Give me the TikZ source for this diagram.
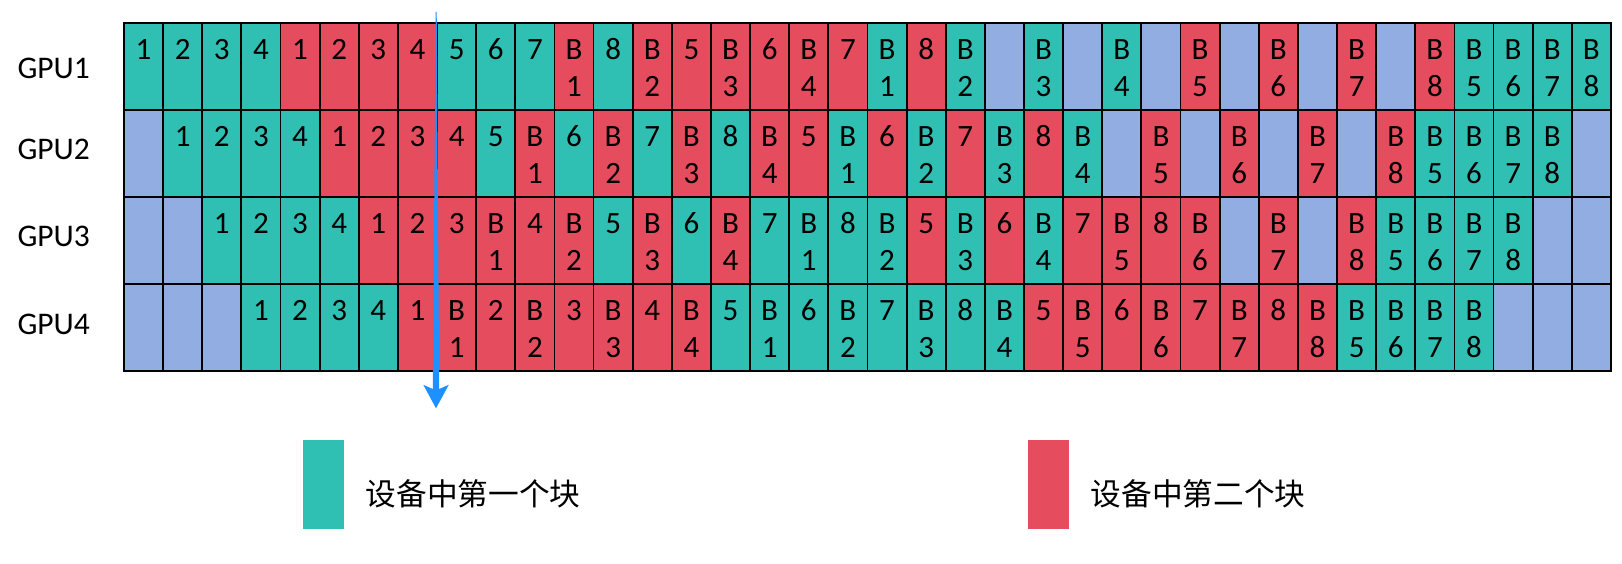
\documentclass[tikz,border=0pt]{standalone}
\usepackage{fontspec}
\setmainfont{Carlito}
\newfontfamily\cjkfont{Noto Sans CJK SC}
\definecolor{tealc}{HTML}{2FBFB3}
\definecolor{redc}{HTML}{E54C5E}
\definecolor{bluec}{HTML}{91ADE2}
\definecolor{arrc}{HTML}{1E90FF}
\def\rowA{tealc/1/{}, tealc/2/{}, tealc/3/{}, tealc/4/{}, redc/1/{}, redc/2/{}, redc/3/{}, redc/4/{}, tealc/5/{}, tealc/6/{}, tealc/7/{}, redc/B/1, tealc/8/{}, redc/B/2, redc/5/{}, redc/B/3, redc/6/{}, redc/B/4, redc/7/{}, tealc/B/1, redc/8/{}, tealc/B/2, bluec/{}/{}, tealc/B/3, bluec/{}/{}, tealc/B/4, bluec/{}/{}, redc/B/5, bluec/{}/{}, redc/B/6, bluec/{}/{}, redc/B/7, bluec/{}/{}, redc/B/8, tealc/B/5, tealc/B/6, tealc/B/7, tealc/B/8}
\def\rowB{bluec/{}/{}, tealc/1/{}, tealc/2/{}, tealc/3/{}, tealc/4/{}, redc/1/{}, redc/2/{}, redc/3/{}, redc/4/{}, tealc/5/{}, redc/B/1, tealc/6/{}, redc/B/2, tealc/7/{}, redc/B/3, tealc/8/{}, redc/B/4, redc/5/{}, tealc/B/1, redc/6/{}, tealc/B/2, redc/7/{}, tealc/B/3, redc/8/{}, tealc/B/4, bluec/{}/{}, redc/B/5, bluec/{}/{}, redc/B/6, bluec/{}/{}, redc/B/7, bluec/{}/{}, redc/B/8, tealc/B/5, tealc/B/6, tealc/B/7, tealc/B/8, bluec/{}/{}}
\def\rowC{bluec/{}/{}, bluec/{}/{}, tealc/1/{}, tealc/2/{}, tealc/3/{}, tealc/4/{}, redc/1/{}, redc/2/{}, redc/3/{}, redc/B/1, redc/4/{}, redc/B/2, tealc/5/{}, redc/B/3, tealc/6/{}, redc/B/4, tealc/7/{}, tealc/B/1, tealc/8/{}, tealc/B/2, redc/5/{}, tealc/B/3, redc/6/{}, tealc/B/4, redc/7/{}, redc/B/5, redc/8/{}, redc/B/6, bluec/{}/{}, redc/B/7, bluec/{}/{}, redc/B/8, tealc/B/5, tealc/B/6, tealc/B/7, tealc/B/8, bluec/{}/{}, bluec/{}/{}}
\def\rowD{bluec/{}/{}, bluec/{}/{}, bluec/{}/{}, tealc/1/{}, tealc/2/{}, tealc/3/{}, tealc/4/{}, redc/1/{}, redc/B/1, redc/2/{}, redc/B/2, redc/3/{}, redc/B/3, redc/4/{}, redc/B/4, tealc/5/{}, tealc/B/1, tealc/6/{}, tealc/B/2, tealc/7/{}, tealc/B/3, tealc/8/{}, tealc/B/4, redc/5/{}, redc/B/5, redc/6/{}, redc/B/6, redc/7/{}, redc/B/7, redc/8/{}, redc/B/8, tealc/B/5, tealc/B/6, tealc/B/7, tealc/B/8, bluec/{}/{}, bluec/{}/{}, bluec/{}/{}}
\newcommand\drawgpurow[2]{%
  \foreach \c/\a/\b [count=\k] in #2 {
    \pgfmathsetmacro\xl{124+(\k-1)*39.13}
    \pgfmathsetmacro\yt{22.7+(#1-1)*87}
    \node[cell,fill=\c] (c#1-\k) at (\xl,\yt) {};
    \node[ctext] (a#1-\k) at (\xl+19.565,\yt+36.6) {\a};
    \node[ctext] (b#1-\k) at (\xl+19.565,\yt+73.5) {\b};
  }%
}
\begin{document}
\begin{tikzpicture}[x=1pt,y=-1pt,
  cell/.style={draw=black,line width=1.8pt,minimum width=39.13pt,minimum height=87pt,inner sep=0pt,outer sep=0pt,anchor=north west},
  ctext/.style={anchor=base,inner sep=0pt,font=\fontsize{31}{37}\selectfont},
  gpulabel/.style={anchor=base west,inner sep=0pt,font=\fontsize{31.5}{37}\selectfont},
  legbox/.style={inner sep=0pt,outer sep=0pt,minimum width=41pt,minimum height=89.3pt,anchor=north west},
  legtext/.style={anchor=base west,inner sep=0pt,font=\cjkfont\fontsize{30.7}{36}\selectfont}]
\useasboundingbox[fill=white] (0,0) rectangle (1622,564);
\drawgpurow{1}{\rowA}
\drawgpurow{2}{\rowB}
\drawgpurow{3}{\rowC}
\drawgpurow{4}{\rowD}
\node[gpulabel] (g1) at (17.3,78.3) {GPU1};
\node[gpulabel] (g2) at (17.3,159.3) {GPU2};
\node[gpulabel] (g3) at (17.3,246.7) {GPU3};
\node[gpulabel] (g4) at (17.3,334.3) {GPU4};
% tapered arrow
\coordinate (atop) at (436.2,12);
\coordinate (atip) at (436.0,408.3);
\fill[arrc] (435.7,12) -- (436.7,12) -- (439.2,389) -- (448.8,384.8) -- (atip) -- (423.3,384.8) -- (432.8,389) -- cycle;
% legend
\node[legbox,fill=tealc] (lg1) at (303,440) {};
\node[legtext] (lt1) at (365.5,505) {设备中第一个块};
\node[legbox,fill=redc] (lg2) at (1028,440) {};
\node[legtext] (lt2) at (1090.5,505) {设备中第二个块};
\end{tikzpicture}
\end{document}
